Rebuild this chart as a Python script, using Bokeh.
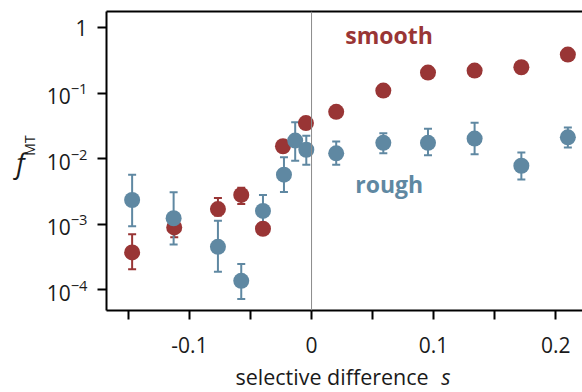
from bokeh.plotting import figure
from bokeh.layouts import row, column
from bokeh.models import (Range1d, FixedTicker, LinearAxis, Label, Whisker, TeeHead,
                          Span, ColumnDataSource, LogTickFormatter)
from bokeh.core.properties import value
from bokeh.embed import file_html
from bokeh.resources import INLINE
import math

# ---- data ----
s_smooth = [-0.147, -0.1125, -0.0767, -0.0576, -0.0398, -0.0234, -0.0046,
            0.0202, 0.0588, 0.0954, 0.1336, 0.1719, 0.2100]
f_smooth = [3.7e-4, 8.9e-4, 1.7e-3, 2.8e-3, 8.5e-4, 1.55e-2, 3.5e-2,
            5.2e-2, 0.11, 0.207, 0.222, 0.25, 0.39]
smooth_lo = [2.04e-4, 6.3e-4, 1.35e-3, 2.04e-3, 8.0e-4, 1.5e-2, 3.4e-2,
             5.1e-2, 0.108, 0.204, 0.219, 0.247, 0.385]
smooth_hi = [7.0e-4, 1.2e-3, 2.5e-3, 3.6e-3, 9.2e-4, 1.6e-2, 3.6e-2,
             5.3e-2, 0.112, 0.21, 0.225, 0.253, 0.395]

s_rough = [-0.147, -0.113, -0.0767, -0.0576, -0.0398, -0.0226, -0.0134,
           -0.0043, 0.0202, 0.0588, 0.0954, 0.1336, 0.1719, 0.2100]
f_rough = [2.34e-3, 1.23e-3, 4.5e-4, 1.36e-4, 1.59e-3, 5.7e-3, 1.89e-2,
           1.37e-2, 1.21e-2, 1.75e-2, 1.75e-2, 2.03e-2, 7.8e-3, 2.12e-2]
rough_lo = [9.3e-4, 4.9e-4, 1.87e-4, 7.2e-5, 9.2e-4, 3.1e-3, 9.3e-3,
            8.1e-3, 8.1e-3, 1.21e-2, 1.13e-2, 1.17e-2, 4.8e-3, 1.49e-2]
rough_hi = [5.7e-3, 3.06e-3, 1.13e-3, 2.45e-4, 2.8e-3, 1.05e-2, 3.6e-2,
            2.24e-2, 1.83e-2, 2.45e-2, 2.86e-2, 3.56e-2, 1.24e-2, 3.0e-2]

x_ticks = [-0.15, -0.1, -0.05, 0.0, 0.05, 0.1, 0.15, 0.2]
x_tick_labels = ["", "-0.1", "", "0", "", "0.1", "", "0.2"]
y_ticks = [1e-4, 1e-3, 1e-2, 1e-1, 1.0]

RED = "#993535"
BLUE = "#5f88a2"
TXT = "#1a1a1a"
FONT = "Open Sans"

MAIN_H = 365
LEFT_W = 40
BOT_H = 40
BOT_OVERLAP = MAIN_H + BOT_H - 392

p = figure(width=582 - LEFT_W, height=MAIN_H,
           x_range=Range1d(-0.168, 0.222),
           y_range=Range1d(10 ** -4.32, 10 ** 0.25),
           y_axis_type="log",
           output_backend="svg", toolbar_location=None,
           min_border_left=106 - LEFT_W, min_border_right=0,
           min_border_top=11, min_border_bottom=MAIN_H - 310)
p.xgrid.visible = False
p.ygrid.visible = False
p.outline_line_color = None
p.background_fill_color = "white"
p.border_fill_color = "white"

for ax in (p.xaxis[0], p.yaxis[0]):
    ax.axis_line_width = 2
    ax.axis_line_color = "black"
    ax.major_tick_line_width = 2
    ax.major_tick_line_color = "black"
    ax.major_tick_out = 9
    ax.major_tick_in = 0
    ax.minor_tick_line_color = None
    ax.major_label_text_font = FONT
    ax.major_label_text_color = TXT

p.xaxis[0].ticker = FixedTicker(ticks=x_ticks)
p.xaxis[0].major_label_overrides = {t: l for t, l in zip(x_ticks, x_tick_labels)}
p.xaxis[0].major_label_standoff = 17
p.xaxis[0].major_label_text_font_size = "21px"

p.yaxis[0].ticker = FixedTicker(ticks=y_ticks)
p.yaxis[0].formatter = LogTickFormatter()
p.yaxis[0].major_label_overrides = {1.0: "1"}
p.yaxis[0].major_label_standoff = 10
p.yaxis[0].major_label_text_font_size = "21px"

top = LinearAxis(ticker=FixedTicker(ticks=[]), axis_line_width=2, axis_line_color="black",
                 major_tick_line_color=None, minor_tick_line_color=None,
                 major_label_text_font_size="0px")
p.add_layout(top, "above")

p.add_layout(Span(location=0, dimension="height", line_color="#8c8c8c", line_width=1))

src_s = ColumnDataSource(dict(x=s_smooth, y=f_smooth, lo=smooth_lo, hi=smooth_hi))
src_r = ColumnDataSource(dict(x=s_rough, y=f_rough, lo=rough_lo, hi=rough_hi))

for src, col in ((src_s, RED), (src_r, BLUE)):
    w = Whisker(source=src, base="x", lower="lo", upper="hi", dimension="height",
                line_color=col, line_width=2,
                upper_head=TeeHead(size=8, line_color=col, line_width=2),
                lower_head=TeeHead(size=8, line_color=col, line_width=2))
    p.add_layout(w)
    p.scatter("x", "y", source=src, size=16, fill_color=col, line_color=col, line_width=0)

p.add_layout(Label(x=0.0276, y=10 ** -0.11, text="smooth", text_color=RED,
                   text_font=FONT, text_font_size="23px", text_font_style="bold",
                   text_align="left", text_baseline="alphabetic"))
p.add_layout(Label(x=0.0358, y=10 ** -2.38, text="rough", text_color=BLUE,
                   text_font=FONT, text_font_size="23px", text_font_style="bold",
                   text_align="left", text_baseline="alphabetic"))


def blank(w, h, fill="white"):
    f = figure(width=w, height=h, x_range=Range1d(0, w), y_range=Range1d(0, h),
               output_backend="svg", toolbar_location=None,
               x_axis_location=None, y_axis_location=None,
               min_border=0, min_border_left=0, min_border_right=0,
               min_border_top=0, min_border_bottom=0)
    f.xgrid.visible = False
    f.ygrid.visible = False
    f.outline_line_color = None
    f.background_fill_color = fill
    f.border_fill_color = fill
    return f


# y-axis title: f with subscript MT
left = blank(LEFT_W, MAIN_H)
left.text(x=[20], y=[MAIN_H - 184], text=["f"], text_color=TXT,
          text_font=value(FONT), text_font_size=value("27px"), text_font_style="italic",
          text_align="center", text_baseline="alphabetic")
left.text(x=[29], y=[MAIN_H - 176], text=["MT"], text_color=TXT,
          text_font=value(FONT), text_font_size=value("14px"), angle=math.pi / 2,
          text_align="left", text_baseline="alphabetic")

# x-axis title: selective difference s
bottom = blank(582, BOT_H, fill=None)
bottom.margin = (-BOT_OVERLAP, 0, 0, 0)
bottom.text(x=[235], y=[392 - 376], text=["selective difference"], text_color=TXT,
            text_font=value(FONT), text_font_size=value("21.5px"),
            text_align="left", text_baseline="alphabetic")
bottom.text(x=[450], y=[392 - 376], text=["s"], text_color=TXT,
            text_font=value(FONT), text_font_size=value("21.5px"), text_font_style="italic",
            text_align="right", text_baseline="alphabetic")

layout = column(row(left, p, spacing=0), bottom, spacing=0)

open("out.html", "w").write(file_html(layout, INLINE))
